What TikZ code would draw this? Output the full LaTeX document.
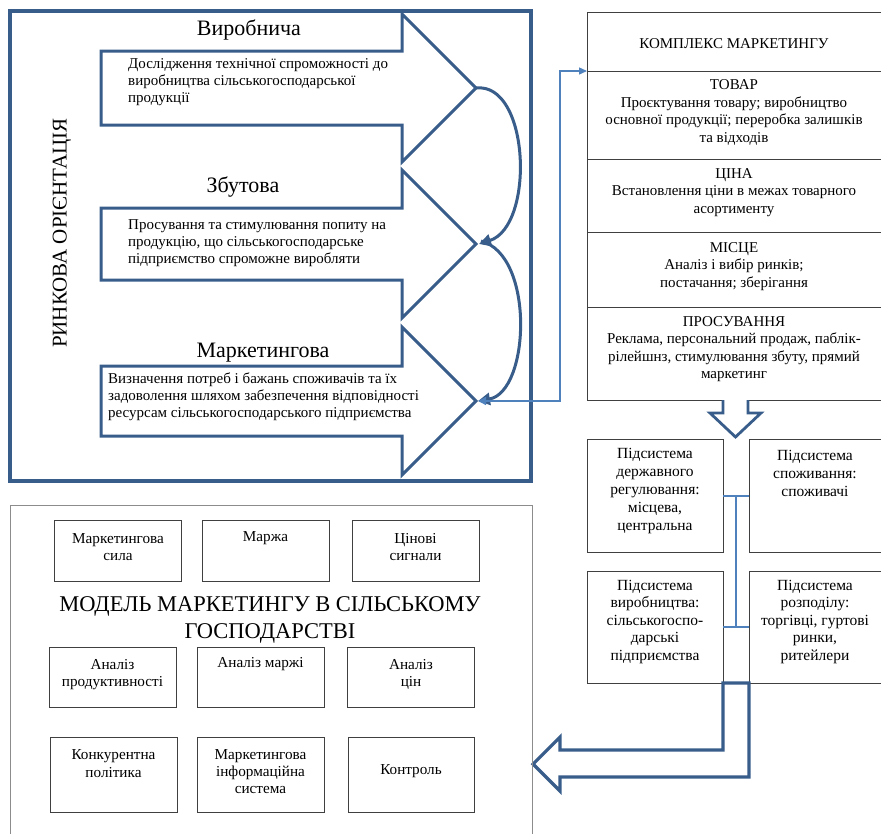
\documentclass[tikz,border=0pt]{standalone}
\usepackage{fontspec}
\setmainfont{Liberation Serif}
\usetikzlibrary{arrows.meta}

\definecolor{frameblue}{RGB}{56,93,138}
\definecolor{linkblue}{RGB}{79,129,189}
\definecolor{boxgray}{RGB}{64,64,64}
\definecolor{outergray}{RGB}{140,140,140}

\newcommand\setfs[2]{\fontsize{#1}{#2}\selectfont}

\begin{document}
\begin{tikzpicture}[x=1pt,y=-1pt,
  frame/.style={draw=frameblue,line width=3.2pt},
  blockarrow/.style={draw=frameblue,line width=3pt,line join=miter,fill=white},
  loopline/.style={draw=frameblue,line width=3pt,-{Triangle[length=12pt,width=12pt]}},
  link/.style={draw=linkblue,line width=1.4pt},
  cell/.style={draw=boxgray,line width=1pt,inner sep=0pt,outer sep=0pt},
  txt/.style={inner sep=0pt,align=center,text=black},
  ltxt/.style={inner sep=0pt,align=left,anchor=west,text=black,font=\setfs{15}{17}},
  title/.style={inner sep=0pt,text=black,font=\setfs{22}{26}},
  coltxt/.style={txt,font=\setfs{15}{17.5}},
  subtxt/.style={txt,font=\setfs{15.5}{18}},
  modtxt/.style={txt,font=\setfs{15.2}{17.5}},
]
\useasboundingbox (0,0) rectangle (881,833);

% ---------- market orientation frame ----------
\draw[frame] (10,11) rectangle (531,481);
\node[txt,rotate=90,font=\setfs{21}{24}] (orient) at (62,233) {РИНКОВА ОРІЄНТАЦІЯ};

% block arrows
\draw[blockarrow] (101,51) -- (402,51) -- (402,14) -- (476,88) -- (402,162) -- (402,125) -- (101,125) -- cycle;
\draw[blockarrow] (101,208) -- (402,208) -- (402,170) -- (476,244) -- (402,318) -- (402,280) -- (101,280) -- cycle;
\draw[blockarrow] (101,366) -- (402,366) -- (402,327) -- (476,401) -- (402,475) -- (402,436) -- (101,436) -- cycle;
\coordinate (tip1) at (476,88);
\coordinate (tip2) at (476,244);
\coordinate (tip3) at (476,401);

\node[title] (prodT) at (249,30) {Виробнича};
\node[title] (salesT) at (243,187) {Збутова};
\node[title] (mktT) at (263,353) {Маркетингова};

\node[ltxt] (prodD) at (128,82) {Дослідження технічної спроможності до\\виробництва сільськогосподарської\\продукції};
\node[ltxt] (salesD) at (128,243) {Просування та стимулювання попиту на\\продукцію, що сільськогосподарське\\підприємство спроможне виробляти};
\node[ltxt] (mktD) at (108,396.5) {Визначення потреб і бажань споживачів та їх\\задоволення шляхом забезпечення відповідності\\ресурсам сільськогосподарського підприємства};

% evolution loops
\draw[loopline] (tip1) .. controls (530,82) and (535,226) .. ([xshift=3pt]tip2);
\draw[loopline] ([xshift=5pt,yshift=3pt]tip2) .. controls (535,255) and (530,392) .. ([xshift=2pt]tip3);

% ---------- marketing mix column ----------
\node[cell,minimum width=296,minimum height=59] (mix) at (735,41.5) {};
\node[cell,minimum width=296,minimum height=88] (product) at (735,115) {};
\node[cell,minimum width=296,minimum height=73] (price) at (735,195.5) {};
\node[cell,minimum width=296,minimum height=75] (place) at (735,269.5) {};
\node[cell,minimum width=296,minimum height=93] (promo) at (735,353.5) {};

\node[coltxt] (mixT) at (734,44) {КОМПЛЕКС МАРКЕТИНГУ};
\node[coltxt] (productT) at (734,112.5) {ТОВАР\\Проєктування товару; виробництво\\основної продукції; переробка залишків\\та відходів};
\node[coltxt] (priceT) at (734,192.5) {ЦІНА\\Встановлення ціни в межах товарного\\асортименту};
\node[coltxt] (placeT) at (734,266.5) {МІСЦЕ\\Аналіз і вибір ринків;\\постачання; зберігання};
\node[coltxt] (promoT) at (734,349) {ПРОСУВАННЯ\\Реклама, персональний продаж, паблік-\\рілейшнз, стимулювання збуту, прямий\\маркетинг};

% link from the marketing arrow to the mix
\coordinate (bend) at (560,401);
\draw[link,{Triangle[length=8pt,width=8pt]}-{Triangle[length=8pt,width=7pt]}]
  ([xshift=2pt]tip3) -- (bend) |- (mix.south west);

% hollow arrow down to the subsystems
\draw[blockarrow,line width=2.8pt] (723,400) -- (723,413) -- (710,413) -- (735.5,437) -- (761,413) -- (748,413) -- (748,400);

% ---------- subsystems ----------
\node[cell,minimum width=136,minimum height=113] (gov) at (655,495.5) {};
\node[cell,minimum width=134,minimum height=113] (cons) at (816,495.5) {};
\node[cell,minimum width=136,minimum height=112] (prodsys) at (655,627) {};
\node[cell,minimum width=134,minimum height=112] (distr) at (816,627) {};

\node[subtxt] (govT) at (655,491.5) {Підсистема\\державного\\регулювання:\\місцева,\\центральна};
\node[subtxt] (consT) at (815,473.5) {Підсистема\\споживання:\\споживачі};
\node[subtxt,font=\setfs{15.5}{17.5}] (prodsysT) at (655,622) {Підсистема\\виробництва:\\сільськогоспо-\\дарські\\підприємства};
\node[subtxt,font=\setfs{15.5}{17.5}] (distrT) at (815,622) {Підсистема\\розподілу:\\торгівці, гуртові\\ринки,\\ритейлери};

\coordinate (jTop) at (736,496);
\coordinate (jBot) at (736,627);
\draw[link,line width=1.2pt] (gov.east |- jTop) -- (cons.west |- jTop);
\draw[link,line width=1.2pt] (prodsys.east |- jBot) -- (distr.west |- jBot);
\draw[link,line width=1.2pt] (jTop) -- (jBot);

% bent hollow arrow back to the model
\draw[blockarrow,line width=3.2pt] (723,683) -- (723,750) -- (560,750) -- (560,737) -- (533,764) -- (560,791) -- (560,777) -- (749,777) -- (749,683) -- cycle;

% ---------- farm marketing model ----------
\draw[draw=outergray,line width=1pt] (10,505) rectangle (532,850);

\node[cell,minimum width=127,minimum height=61] (power) at (117.5,550.5) {};
\node[cell,minimum width=127,minimum height=61] (margin) at (265.5,550.5) {};
\node[cell,minimum width=127,minimum height=61] (signals) at (415.5,550.5) {};
\node[cell,minimum width=127,minimum height=60] (prodan) at (112.5,677) {};
\node[cell,minimum width=127,minimum height=60] (marginan) at (260.5,677) {};
\node[cell,minimum width=127,minimum height=60] (pricean) at (410.5,677) {};
\node[cell,minimum width=127,minimum height=75] (compet) at (113.5,774.5) {};
\node[cell,minimum width=127,minimum height=75] (mis) at (260.5,774.5) {};
\node[cell,minimum width=126,minimum height=75] (control) at (411,774.5) {};

\node[modtxt] (powerT) at (118,547) {Маркетингова\\сила};
\node[modtxt] (marginT) at (265.5,538) {Маржа};
\node[modtxt] (signalsT) at (415.5,547) {Цінові\\сигнали};
\node[txt,font=\setfs{22.5}{27}] (modelT) at (270,619.5) {МОДЕЛЬ МАРКЕТИНГУ В СІЛЬСЬКОМУ\\ГОСПОДАРСТВІ};
\node[modtxt] (prodanT) at (112.5,674.5) {Аналіз\\продуктивності};
\node[modtxt] (marginanT) at (260.5,664) {Аналіз маржі};
\node[modtxt] (priceanT) at (411,674.5) {Аналіз\\цін};
\node[modtxt] (competT) at (113.5,763.5) {Конкурентна\\політика};
\node[modtxt,font=\setfs{15.2}{17}] (misT) at (260.5,772) {Маркетингова\\інформаційна\\система};
\node[modtxt] (controlT) at (411,771) {Контроль};
\end{tikzpicture}
\end{document}
